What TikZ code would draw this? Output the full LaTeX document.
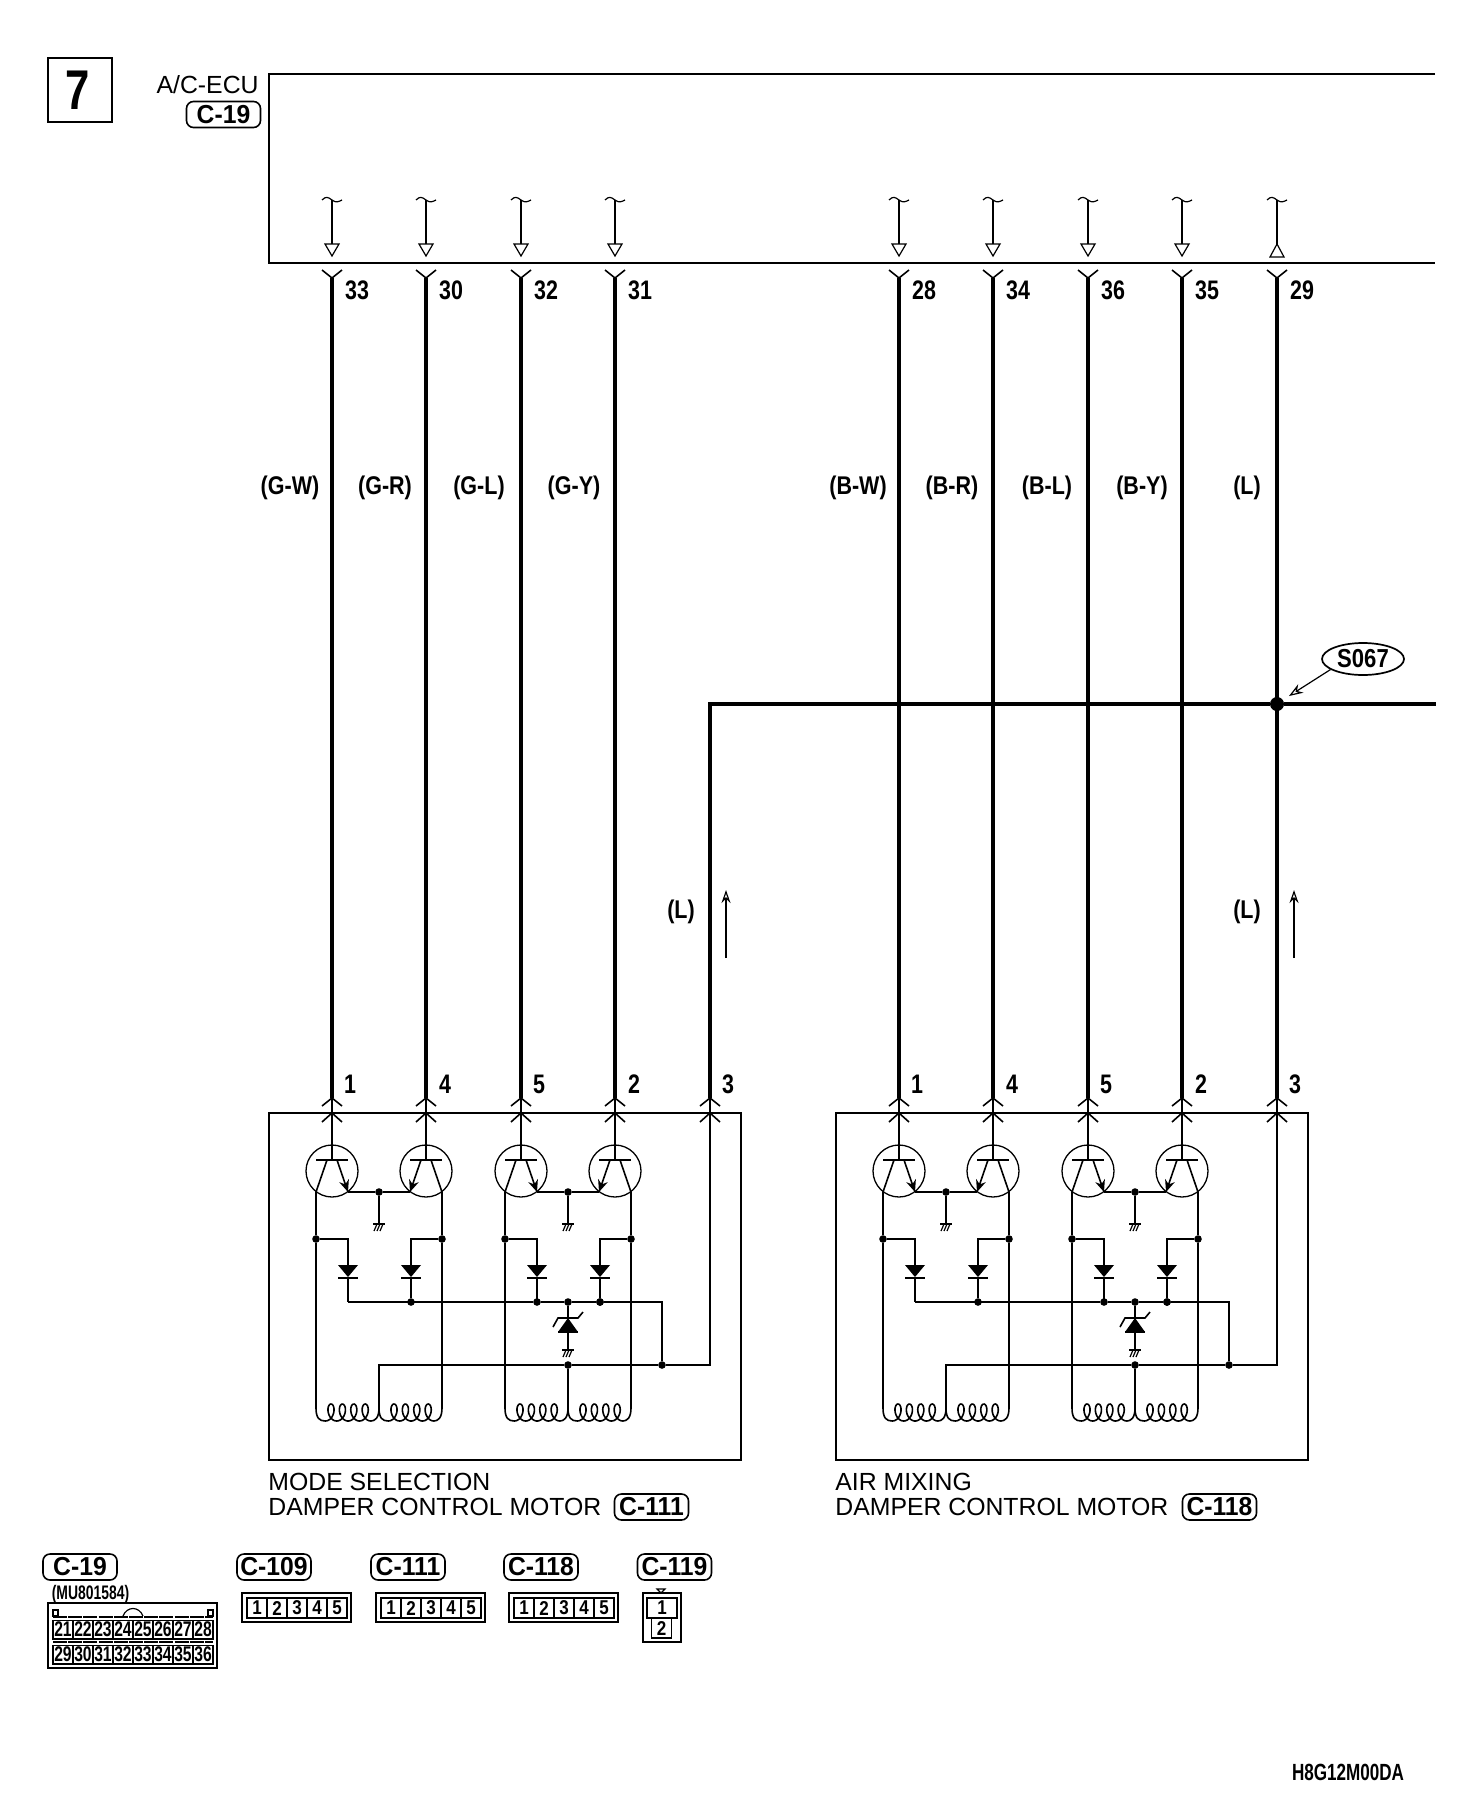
\documentclass[tikz,border=0pt]{standalone}
\usepackage{fontspec}
\setmainfont{Liberation Sans}
\usetikzlibrary{arrows.meta,shapes.geometric}

\newcommand\lab[2][.8]{\scalebox{#1}[1]{\bfseries #2}}
% coil: #1 is the x of its left end
\newcommand\motorcoil[1]{
	\draw[cct] (#1,1408) .. controls +(0,10) and +(-6,0) .. ++(9.3,13)
		-- plot[domain=-180:1260,samples=120] ({#1+15+\x*11.4/360-5.6*sin(\x)},{1412.5-8.5*cos(\x)})
		.. controls +(4,0) and +(0,10) .. ++(8.1,-13);
}
\newcommand\gnd[2]{
	\draw[thn] (#1-6,#2)--(#1+6,#2);
	\draw[thn] (#1-2,#2)--(#1-5,#2+7);
	\draw[thn] (#1+1,#2)--(#1-2,#2+7);
	\draw[thn] (#1+4,#2)--(#1+1,#2+7);
}
\newcommand\diode[1]{
	\fill (#1-10,1265)--(#1+10,1265)--(#1,1277)--cycle;
	\draw[cct] (#1-10,1278)--(#1+10,1278);
}

\begin{document}
\begin{tikzpicture}[x=.5pt,y=-.5pt]

	\tikzset{
		wire/.style={line width=2.1pt},
		cct/.style={line width=.8pt},
		thn/.style={line width=.6pt},
		frame/.style={line width=.9pt},
		dot/.style={circle,fill=black,inner sep=0pt,minimum size=3.8pt},
		bigdot/.style={circle,fill=black,inner sep=0pt,minimum size=7pt},
		pinlabel/.style={inner sep=0pt,font=\fontsize{13.4}{15}\selectfont},
		wirelabel/.style={inner sep=0pt,font=\fontsize{12.8}{15}\selectfont},
		plain/.style={inner sep=0pt,font=\fontsize{12.4}{15}\selectfont},
		pill/.style={draw,line width=.8pt,rounded corners=3.5pt,inner sep=0pt,minimum width=37pt,minimum height=13pt,font=\fontsize{13}{15}\selectfont},
		tcircle/.style={circle,draw,line width=.65pt,inner sep=0pt,minimum size=26pt},
		pincell/.style={draw,line width=.6pt,inner sep=0pt,minimum width=10pt,minimum height=10pt,font=\fontsize{10}{11}\selectfont},
		bigcell/.style={draw,line width=.6pt,inner sep=0pt,minimum width=10pt,minimum height=9.4pt,font=\fontsize{10.6}{11}\selectfont},
	}
	\useasboundingbox (0,0) rectangle (1472,1794);

	\node[draw,line width=1.1pt,minimum size=32pt,inner sep=0pt] (num) at (80,90) {};
	\node[inner sep=0pt,font=\fontsize{28}{30}\selectfont] (numtext) at (78,90) {\lab[.78]{7}};
	\node[plain,anchor=east] (ecu) at (259,85) {A/C-ECU};
	\node[pill] (ecupill) at (223.5,114.5) {\lab[.95]{C-19}};
	\draw[frame] (1435,74)--(269,74)--(269,263)--(1435,263);

	% the two motors
	\foreach \mshift/\mname/\mfirst/\msecond/\mconn/\mpx in {0/A/MODE SELECTION/DAMPER CONTROL MOTOR/C-111/651.5,567/B/AIR MIXING/DAMPER CONTROL MOTOR/C-118/652.5} {
		\begin{scope}[shift={(\mshift,0)},name prefix=\mname-]
			\draw[frame] (269,1113) rectangle (741,1460);
			\node[plain,anchor=base west] (capa) at (268,1490) {\mfirst};
			\node[plain,anchor=base west] (capb) at (268,1515) {\msecond};
			\node[pill] (cappill) at (\mpx,1507) {\lab[.95]{\mconn}};
			\foreach \wx/\pnum/\dx in {332/1/18,426/4/19,521/5/18,615/2/19,710/3/18} {
				\coordinate (pin\pnum) at (\wx,1098);
				\coordinate (in\pnum) at (\wx,1113);
				\node[pinlabel] (lab\pnum) at (\wx+\dx,1084) {\lab{\pnum}};
				\draw[cct] (\wx-10,1106)--(pin\pnum)--(\wx+10,1106);
				\draw[cct] (\wx-10,1122)--(in\pnum)--(\wx+10,1122);
				\draw[cct] (pin\pnum)--(in\pnum);
			}
			\foreach \pshift/\pname/\pina/\pinb in {0/p/1/4,189/q/5/2} {
				\begin{scope}[shift={(\pshift,0)},name prefix=\mname\pname-]
					\node[tcircle] (ta) at (332,1171) {};
					\node[tcircle] (tb) at (426,1171) {};
					\draw[thn] (316,1160)--(348,1160);
					\draw[thn] (410,1160)--(442,1160);
					\draw[cct] (327,1160)--(316,1192);
					\draw[cct] (431,1160)--(442,1192);
					\draw[cct,-{Stealth[length=6pt,width=5pt]}] (337,1160)--(348,1192);
					\draw[cct,-{Stealth[length=6pt,width=5pt]}] (421,1160)--(410,1192);
					\node[dot] (gn) at (379,1192) {};
					\draw[thn] (348,1192)--(gn)--(410,1192);
					\coordinate (gb) at (379,1224);
					\draw[cct] (gn)--(gb);
					\gnd{379}{1224}
					\node[dot] (da) at (316,1239) {};
					\node[dot] (db) at (442,1239) {};
					\draw[cct] (316,1192)--(da)--(316,1408);
					\draw[cct] (442,1192)--(db)--(442,1408);
					\draw[cct] (da)-|(348,1265);
					\draw[cct] (db)-|(411,1265);
					\diode{348}
					\diode{411}
					\draw[cct] (348,1277)--(348,1302);
					\node[dot] (db2) at (411,1302) {};
					\draw[cct] (411,1277)--(db2);
					\motorcoil{316}
					\motorcoil{379}
				\end{scope}
				\draw[cct] (in\pina)--++(0,47);
				\draw[cct] (in\pinb)--++(0,47);
			}
			% feed from bus and zener
			\node[dot] (ba) at (537,1302) {};
			\node[dot] (zt) at (568,1302) {};
			\node[dot] (bb) at (600,1302) {};
			\node[dot] (ja) at (568,1365) {};
			\node[dot] (jb) at (662,1365) {};
			\draw[cct] (537,1277)--(ba);
			\draw[thn] (348,1302)--(ba)--(zt)--(bb)-|(jb);
			\draw[cct] (zt)--(568,1350);
			\fill (568,1318)--(578,1332)--(558,1332)--cycle;
			\draw[cct] (553,1327)--(558,1318)--(578,1318)--(583,1312);
			\draw[cct] (558,1332)--(578,1332);
			\gnd{568}{1350}
			\draw[cct] (379,1408)--(379,1365)--(ja)--(jb)-|(in3);
			\draw[cct] (ja)--(568,1408);
		\end{scope}
	}

	% wires between the ECU and the motors
	\foreach \wx/\epin/\cname/\cx/\mpin in {332/33/G-W/290/A-pin1,426/30/G-R/385/A-pin4,521/32/G-L/479/A-pin5,615/31/G-Y/574/A-pin2,899/28/B-W/858/B-pin1,993/34/B-R/952/B-pin4,1088/36/B-L/1047/B-pin5,1182/35/B-Y/1142/B-pin2,1277/29/L/1247/B-pin3} {
		\coordinate (ecu\epin) at (\wx,278);
		\draw[wire] (ecu\epin)--(\mpin);
		\draw[cct] (\wx-10,270)--(ecu\epin)--(\wx+10,270);
		\node[pinlabel] (pl\epin) at (\wx+25,290) {\lab{\epin}};
		\node[wirelabel] (wl\epin) at (\cx,488) {\lab[.84]{(\cname)}};
		\draw[thn] (\wx-10,200) .. controls +(4,-4) and +(-4,-3) .. (\wx,200) .. controls +(4,3) and +(-4,2) .. (\wx+10,200);
		\coordinate (sig\epin) at (\wx,200);
	}
	\foreach \epin/\wx in {33/332,30/426,32/521,31/615,28/899,34/993,36/1088,35/1182} {
		\draw[thn] (sig\epin)--(\wx,244);
		\draw[thn,fill=white] (\wx-7,244)--(\wx+7,244)--(\wx,256)--cycle;
	}
	\draw[thn] (sig29)--(1277,244);
	\draw[thn,fill=white] (1277,244)--(1284,257)--(1270,257)--cycle;

	% splice
	\node[bigdot] (j29) at (1277,704) {};
	\coordinate (tee) at (1436,704);
	\draw[wire] (A-pin3)|-(j29);
	\draw[wire] (j29)--(tee);
	\node[ellipse,draw,line width=.85pt,inner sep=0pt,minimum width=41pt,minimum height=16pt,font=\fontsize{13}{15}\selectfont] (s067) at (1363,659) {\lab[.85]{S067}};
	\coordinate (s067tip) at (1289,696);
	\draw[thn,-{Stealth[open,length=7pt,width=5pt]}] (s067.198)--(s067tip);

	\node[wirelabel] (la) at (681,912) {\lab[.84]{(L)}};
	\node[wirelabel] (lb) at (1247,912) {\lab[.84]{(L)}};
	\coordinate (upa) at (726,958);
	\coordinate (upb) at (1294,958);
	\draw[thn,-{Stealth[open,length=6.5pt,width=4.5pt]}] (upa)--++(0,-68);
	\draw[thn,-{Stealth[open,length=6.5pt,width=4.5pt]}] (upb)--++(0,-68);

	% connector faces
	\node[pill] (c19) at (80,1567) {\lab[.95]{C-19}};
	\node[inner sep=0pt,font=\fontsize{9.8}{11}\selectfont] (mu) at (90.5,1594) {\lab[.71]{(MU801584)}};
	\draw[line width=.9pt] (48,1603) rectangle (217,1668);
	\foreach \i [count=\n from 0] in {21,...,28} {
		\node[bigcell] (ca\i) at ({63+20*\n},1629.5) {\lab[.74]{\i}};
	}
	\foreach \i [count=\n from 0] in {29,...,36} {
		\node[bigcell] (ca\i) at ({63+20*\n},1654.5) {\lab[.74]{\i}};
	}
	\draw[line width=1pt,dash pattern=on 7pt off .6pt] (53,1617)--(213,1617);
	\draw[line width=1pt,dash pattern=on 7pt off .6pt] (53,1642)--(213,1642);
	\draw[thn] (53,1616) rectangle (58,1610);
	\draw[thn] (208,1616) rectangle (213,1610);
	\draw[thn] (123,1616) .. controls (127,1606) and (139,1606) .. (143,1616);

	\foreach \cx/\cname in {242/C-109,376/C-111,509/C-118} {
		\node[pill] (pill\cx) at (\cx+32,1567) {\lab[.95]{\cname}};
		\node[draw,line width=.9pt,inner sep=0pt,minimum width=54.5pt,minimum height=14.5pt] (box\cx) at (\cx+54.5,1607.5) {};
		\foreach \i in {1,...,5} {
			\node[pincell] (c\cx\i) at ({\cx-5+20*\i},1608) {\lab[.85]{\i}};
		}
	}
	\node[pill] (pill119) at (674.5,1567) {\lab[.95]{C-119}};
	\node[draw,line width=.9pt,inner sep=0pt,minimum width=19pt,minimum height=24.5pt] (box119) at (662,1617.5) {};
	\node[pincell,minimum width=15pt] (c119a) at (662,1608) {\lab[.85]{1}};
	\node[pincell] (c119b) at (661.5,1628) {\lab[.85]{2}};
	\draw[thn,fill=white] (657,1589)--(665,1589)--(661,1593)--cycle;

	\node[inner sep=0pt,font=\fontsize{11.7}{13}\selectfont] (code) at (1348,1772) {\lab[.73]{H8G12M00DA}};

\end{tikzpicture}
\end{document}
